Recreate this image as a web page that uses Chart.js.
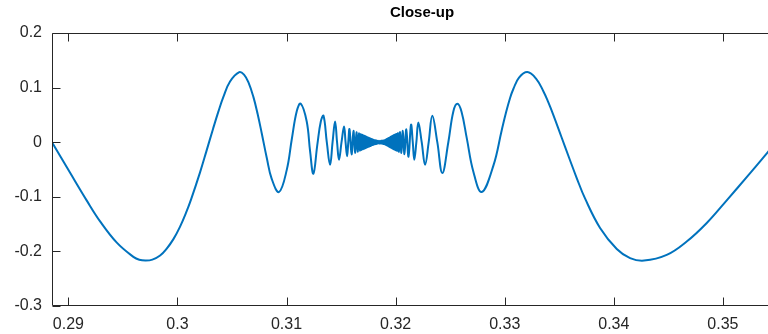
<!DOCTYPE html>
<html>
<head>
<meta charset="utf-8">
<script src="https://cdn.jsdelivr.net/npm/chart.js@4/dist/chart.umd.min.js"></script>
<style>
  html, body { margin: 0; padding: 0; overflow: hidden; background: #ffffff; }
  #wrap { position: relative; width: 844px; height: 334px; }
</style>
</head>
<body>
<div id="wrap"><canvas id="chart" width="844" height="334"></canvas></div>
<script>
// Sampled curve: x positions and the matching y values
const xValues = [
  0.28850, 0.29016, 0.29169, 0.29291, 0.29444, 0.29596, 0.29650, 0.29710, 0.29770, 0.29841,
  0.29900, 0.29963, 0.30024, 0.30079, 0.30125, 0.30207, 0.30265, 0.30326, 0.30375, 0.30421,
  0.30482, 0.30567, 0.30610, 0.30650, 0.30696, 0.30735, 0.30773, 0.30819, 0.30864, 0.30931,
  0.31002, 0.31048, 0.31094, 0.31130, 0.31185, 0.31216, 0.31246,
  0.31282, 0.31314, 0.31339, 0.31369, 0.31399, 0.31422, 0.31445, 0.31463, 0.31481, 0.31504,
  0.31527, 0.31541, 0.31555, 0.31566, 0.31577, 0.31596, 0.31613, 0.31628, 0.31641, 0.31652,
  0.31663, 0.31672, 0.31680, 0.31687, 0.31695, 0.31701, 0.31707, 0.31712, 0.31718, 0.31722,
  0.31727, 0.31732, 0.31736, 0.31741, 0.31745, 0.31750, 0.31754, 0.31759, 0.31764, 0.31768,
  0.31773, 0.31777, 0.31782, 0.31787, 0.31791, 0.31797, 0.31802, 0.31808, 0.31813, 0.31819,
  0.31825, 0.31831, 0.31839, 0.31848, 0.31857, 0.31866, 0.31874, 0.31880, 0.31886, 0.31892,
  0.31897, 0.31903, 0.31908, 0.31914, 0.31918, 0.31923, 0.31927, 0.31932, 0.31937, 0.31941,
  0.31946, 0.31951, 0.31955, 0.31960, 0.31964, 0.31969, 0.31974, 0.31978, 0.31984, 0.31989,
  0.31995, 0.32000, 0.32007, 0.32014, 0.32022, 0.32031, 0.32041, 0.32053, 0.32066, 0.32081,
  0.32098, 0.32118, 0.32141, 0.32157, 0.32171, 0.32190, 0.32208, 0.32239, 0.32270, 0.32303,
  0.32336, 0.32382, 0.32428, 0.32483, 0.32529, 0.32566, 0.32604, 0.32652, 0.32712, 0.32789,
  0.32896, 0.32972, 0.33010, 0.33049, 0.33079, 0.33131, 0.33207, 0.33287, 0.33354, 0.33400,
  0.33446, 0.33520, 0.33590, 0.33660, 0.33736, 0.33874, 0.34027, 0.34149, 0.34277, 0.34485,
  0.34668, 0.34852, 0.35035, 0.35230, 0.35414, 0.35450
];
const yValues = [
   0.0000, -0.0560, -0.1070, -0.1450, -0.1840, -0.2100, -0.2154, -0.2168, -0.2151, -0.2075,
  -0.1952, -0.1775, -0.1545, -0.1290, -0.1046, -0.0552, -0.0168,  0.0243,  0.0560,  0.0830,
   0.1112,  0.1284,  0.1237,  0.1099,  0.0830,  0.0516,  0.0160, -0.0290, -0.0671, -0.0912,
  -0.0507,  0.0054,  0.0571,  0.0707,  0.0378, -0.0170, -0.0578,
  -0.0048,  0.0378,  0.0483,  0.0000, -0.0413,  0.0000,  0.0378,  0.0000, -0.0322,  0.0000,
   0.0287,  0.0000, -0.0256,  0.0000,  0.0238, -0.0223,  0.0208, -0.0194,  0.0183, -0.0172,
   0.0163, -0.0155,  0.0148, -0.0141,  0.0135, -0.0128,  0.0124, -0.0119,  0.0115, -0.0110,
   0.0106, -0.0101,  0.0097, -0.0091,  0.0088, -0.0084,  0.0080, -0.0077,  0.0073, -0.0068,
   0.0064, -0.0060,  0.0057, -0.0053,  0.0049, -0.0046,  0.0042, -0.0039,  0.0036, -0.0034,
   0.0032, -0.0030,  0.0028, -0.0027,  0.0027, -0.0028,  0.0029, -0.0030,  0.0032, -0.0034,
   0.0036, -0.0040,  0.0045, -0.0053,  0.0057, -0.0062,  0.0066, -0.0071,  0.0077, -0.0082,
   0.0088, -0.0093,  0.0099, -0.0102,  0.0108, -0.0113,  0.0119, -0.0124,  0.0130, -0.0135,
   0.0141, -0.0146,  0.0152, -0.0159,  0.0166, -0.0176,  0.0185, -0.0196,  0.0207, -0.0219,
   0.0234, -0.0265,  0.0318,  0.0000, -0.0322,  0.0000,  0.0360,  0.0000, -0.0413,  0.0000,
   0.0483,  0.0000, -0.0565,  0.0000,  0.0561,  0.0702,  0.0556,  0.0075, -0.0536, -0.0912,
  -0.0430,  0.0215,  0.0529,  0.0810,  0.0974,  0.1182,  0.1284,  0.1165,  0.0934,  0.0728,
   0.0496,  0.0095, -0.0285, -0.0656, -0.1030, -0.1570, -0.1955, -0.2122, -0.2168, -0.2065,
  -0.1820, -0.1480, -0.1065, -0.0612, -0.0176, -0.0084
];

// Axis tick positions
const xTickValues = [0.29, 0.30, 0.31, 0.32, 0.33, 0.34, 0.35];
const yTickValues = [-0.3, -0.2, -0.1, 0, 0.1, 0.2];
const chartTitle = 'Close-up';

const FONT = '"Liberation Sans", Arial, Helvetica, sans-serif';
const AXIS_COLOR = '#262626';
const LINE_COLOR = '#0072BD';
const TICK_LEN = 8;

const fmt = v => parseFloat(Number(v).toFixed(2)).toString();

// Box around the plot area with inward tick marks on every side
const boxFrame = {
  id: 'boxFrame',
  afterDraw(chart) {
    const { ctx, chartArea: a } = chart;
    const sx = chart.scales.x, sy = chart.scales.y;
    const L = Math.round(a.left) + 0.5, R = Math.round(a.right) - 0.5;
    const T = Math.round(a.top) + 0.5, B = Math.round(a.bottom) - 0.5;
    ctx.save();
    ctx.strokeStyle = AXIS_COLOR;
    ctx.lineWidth = 1;
    ctx.beginPath();
    ctx.rect(L, T, R - L, B - T);
    sx.ticks.forEach(t => {
      const p = Math.round(sx.getPixelForValue(t.value)) + 0.5;
      ctx.moveTo(p, B); ctx.lineTo(p, B - TICK_LEN);
      ctx.moveTo(p, T); ctx.lineTo(p, T + TICK_LEN);
    });
    sy.ticks.forEach(t => {
      const p = Math.round(sy.getPixelForValue(t.value)) + 0.5;
      ctx.moveTo(L, p); ctx.lineTo(L + TICK_LEN, p);
      ctx.moveTo(R, p); ctx.lineTo(R - TICK_LEN, p);
    });
    ctx.stroke();
    ctx.restore();
  }
};

new Chart(document.getElementById('chart'), {
  type: 'line',
  data: {
    datasets: [{
      data: xValues.map((x, i) => ({ x, y: yValues[i] })),
      borderColor: LINE_COLOR,
      borderWidth: 2,
      pointRadius: 0,
      fill: false,
      tension: 0.4
    }]
  },
  options: {
    responsive: false,
    devicePixelRatio: 1,
    animation: false,
    layout: { padding: 0 },
    plugins: {
      legend: { display: false },
      tooltip: { enabled: false },
      title: {
        display: true,
        text: chartTitle,
        color: '#000000',
        font: { family: FONT, size: 15, weight: 'bold', lineHeight: 1.2 },
        padding: { top: 4, bottom: 11 }
      }
    },
    scales: {
      x: {
        type: 'linear',
        min: 0.2885,
        max: 0.3611,
        afterBuildTicks: s => { s.ticks = xTickValues.map(v => ({ value: v })); },
        afterFit: s => { s.height = 28; },
        grid: { display: false, drawTicks: false },
        border: { display: false },
        ticks: {
          color: AXIS_COLOR,
          font: { family: FONT, size: 16 },
          padding: 9,
          maxRotation: 0,
          autoSkip: false,
          callback: v => fmt(v)
        }
      },
      y: {
        type: 'linear',
        min: -0.3,
        max: 0.2,
        afterBuildTicks: s => { s.ticks = yTickValues.map(v => ({ value: v })); },
        afterFit: s => { s.width = 52; },
        grid: { display: false, drawTicks: false },
        border: { display: false },
        ticks: {
          color: AXIS_COLOR,
          font: { family: FONT, size: 16 },
          padding: 10,
          autoSkip: false,
          callback: v => fmt(v)
        }
      }
    }
  },
  plugins: [boxFrame]
});
</script>
</body>
</html>
